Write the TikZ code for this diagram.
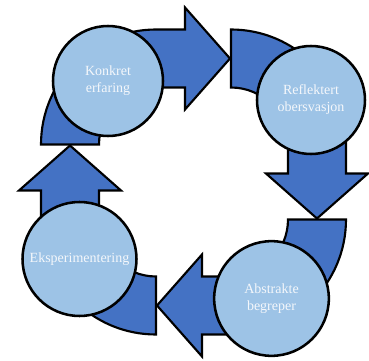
\documentclass[tikz,border=0pt]{standalone}
\usepackage{fontspec}
\setmainfont{Liberation Serif}

\definecolor{arrowblue}{HTML}{4472C4}
\definecolor{stageblue}{HTML}{9DC3E6}
\definecolor{stagetext}{HTML}{F4F7FB}

% one bent block arrow, drawn round the corner of the inner square
\newcommand{\cyclearrow}{%
  \filldraw[arrowpart] (-115,0) arc[start angle=180,end angle=270,radius=115]
    -- (29,-115) -- (29,-137) -- (74,-86) -- (29,-35) -- (29,-57) -- (0,-57)
    arc[start angle=270,end angle=180,radius=57] -- cycle;}
\newcommand\hs{37.5}

\begin{document}
\begin{tikzpicture}[x=0.75pt,y=-0.75pt,
    arrowpart/.style={fill=arrowblue,draw=black,line width=1.6pt,line join=miter},
    stage/.style={circle,draw=black,line width=1.9pt,fill=stageblue,
      text=stagetext,align=center,inner sep=0pt,minimum size=#1,
      font=\fontsize{10.5}{12.75}\selectfont}]
  \useasboundingbox (0,0) rectangle (369,361);
    \foreach \i in {0,...,3}{
      \begin{scope}[shift={(193.5,182)},rotate=-90*\i,shift={(-\hs,-\hs)}]
        \cyclearrow
      \end{scope}}
    \node[stage=82.5pt] (konkret) at (108,81) {Konkret\\erfaring};
    \node[stage=81pt] (reflektert) at (311,100) {Reflektert\\obersvasjon};
    \node[stage=86pt] (abstrakte) at (271.5,298.5) {Abstrakte\\begreper};
    \node[stage=85.5pt] (eksperimentering) at (79.5,259) {Eksperimentering};
\end{tikzpicture}
\end{document}
